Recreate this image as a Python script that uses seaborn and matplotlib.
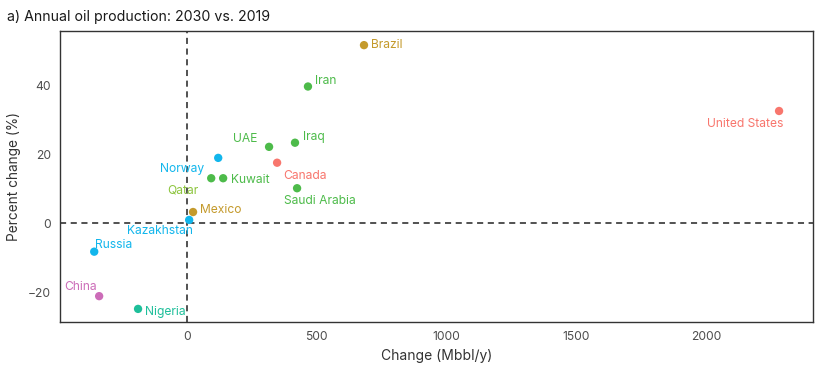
import matplotlib
matplotlib.use("Agg")
import matplotlib.pyplot as plt
import seaborn as sns
import pandas as pd

countries = ["Brazil", "Iran", "Iraq", "UAE", "Canada", "Saudi Arabia", "Kuwait", "Qatar",
             "Norway", "Mexico", "Kazakhstan", "Russia", "China", "Nigeria", "United States"]
change = [682, 466, 416, 316, 347, 424, 139, 93, 120, 23, 8, -358, -339, -189, 2282]
pct = [51.6, 39.6, 23.3, 22.1, 17.5, 10.1, 13.0, 13.0, 18.9, 3.2, 0.9, -8.3, -21.2, -24.9, 32.5]
region = ["Latin America", "Middle East", "Middle East", "Middle East", "North America",
          "Middle East", "Middle East", "Middle East", "Eurasia", "Latin America", "Eurasia",
          "Eurasia", "Asia", "Africa", "North America"]

palette = {"North America": "#F8766D", "Latin America": "#C49A2C", "Middle East": "#4DBB4A",
           "Africa": "#1EBF9A", "Eurasia": "#12B6EC", "Asia": "#CC6CB8"}

# label offsets in pixels (dx, dy, ha)
offsets = {
    "Brazil": (7, 0, "left"), "Iran": (7, -6, "left"), "Iraq": (8, -6, "left"),
    "UAE": (-12, -8, "right"), "Canada": (28, 13, "center"), "Saudi Arabia": (-13, 13, "left"),
    "Kuwait": (8, 2, "left"), "Qatar": (-28, 12, "center"), "Norway": (-14, 11, "right"),
    "Mexico": (7, -2, "left"), "Kazakhstan": (-29, 11, "center"), "Russia": (1, -7, "left"),
    "China": (-2, -9, "right"), "Nigeria": (7, 3, "left"), "United States": (-34, 13, "center"),
}

df = pd.DataFrame({"country": countries, "change": change, "pct": pct, "region": region})

sns.set_style("white")
plt.rcParams["font.family"] = ["Inter", "DejaVu Sans"]

fig = plt.figure(figsize=(8.25, 3.66), dpi=100)
ax = fig.add_axes([0.0727, 0.1202, 0.9128, 0.7951])

ax.axvline(0, color="#222222", ls=(0, (4, 3)), lw=1.1, zorder=1)
ax.axhline(0, color="#222222", ls=(0, (4, 3)), lw=1.1, zorder=1)

sns.scatterplot(data=df, x="change", y="pct", hue="region", palette=palette,
                s=36, edgecolor="none", legend=False, ax=ax, zorder=3)

for c, x, y, r in zip(countries, change, pct, region):
    dx, dy, ha = offsets[c]
    color = "#8DC53E" if c == "Qatar" else palette[r]
    ax.annotate(c, (x, y), xytext=(dx * 0.72, -dy * 0.72), textcoords="offset points",
                ha=ha, va="center", color=color, fontsize=8.7)

ax.set_xlim(-490, 2413)
ax.set_ylim(-28.7, 55.7)
ax.set_xticks([0, 500, 1000, 1500, 2000])
ax.set_yticks([-20, 0, 20, 40])
ax.tick_params(axis="both", direction="out", length=3, width=0.8, colors="#333333",
               labelcolor="#4D4D4D", labelsize=8.7)
for s in ax.spines.values():
    s.set_color("#333333")
    s.set_linewidth(1.0)

ax.set_xlabel("Change (Mbbl/y)", fontsize=10, color="#333333", labelpad=4)
ax.set_ylabel("Percent change (%)", fontsize=9.8, color="#333333", labelpad=5)
fig.text(0.008, 0.953, "a) Annual oil production: 2030 vs. 2019", fontsize=10.2,
         color="#1a1a1a", ha="left", va="center")

fig.savefig("out.png", dpi=100)
